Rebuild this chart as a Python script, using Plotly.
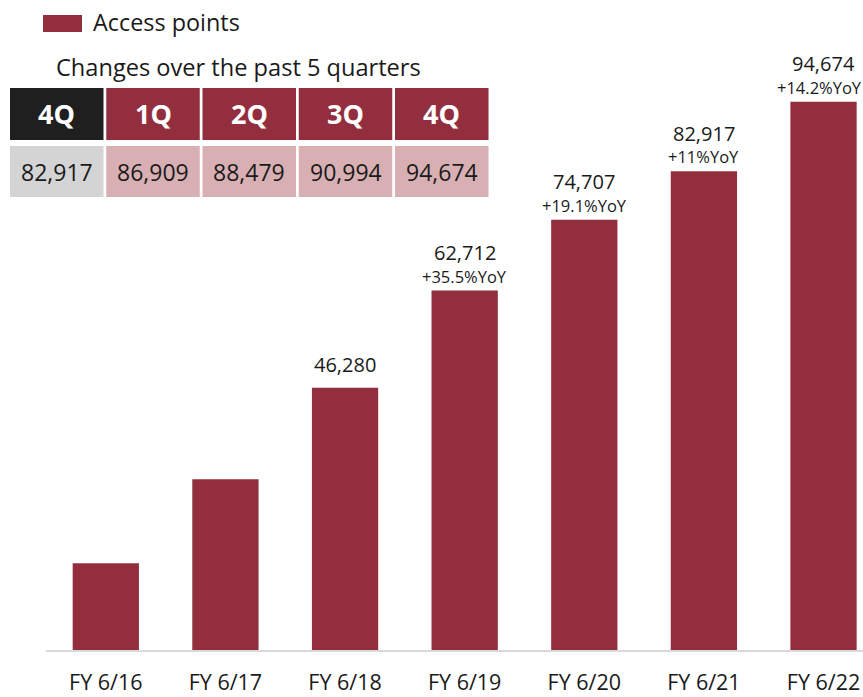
import plotly.graph_objects as go

# ---- data ----
categories = ["FY 6/16", "FY 6/17", "FY 6/18", "FY 6/19", "FY 6/20", "FY 6/21", "FY 6/22"]
access_points = [16570, 30780, 46280, 62712, 74707, 82917, 94674]
show_value = [False, False, True, True, True, True, True]
yoy_labels = [None, None, None, "+35.5%YoY", "+19.1%YoY", "+11%YoY", "+14.2%YoY"]

quarters = ["4Q", "1Q", "2Q", "3Q", "4Q"]
quarter_values = [82917, 86909, 88479, 90994, 94674]

series_name = "Access points"
table_title = "Changes over the past 5 quarters"

# ---- style ----
W, H = 863, 697
PLOT_BOTTOM = 650          # pixel row of the x-axis
FONT = "Open Sans"
BAR = "#922e3d"
DARK = "#1f1f1f"
PINK = "#d8b0b4"
GREY = "#d4d4d4"
TEXT = "#1a1a1a"


def px_x(px):
    return px / W


def px_y(py):
    return (PLOT_BOTTOM - py) / PLOT_BOTTOM


fig = go.Figure()
fig.add_trace(go.Bar(
    x=categories, y=access_points, name=series_name,
    marker=dict(color=BAR, line=dict(width=0)),
    showlegend=False, hoverinfo="skip",
))

annotations = []
shapes = []

# value and YoY labels above the bars
last = len(categories) - 1
for i, (cat, v, show, yoy) in enumerate(zip(categories, access_points, show_value, yoy_labels)):
    if not show:
        continue
    annotations.append(dict(
        x=cat, y=v, xref="x", yref="y", text=f"{v:,}", showarrow=False,
        yshift=38 if yoy else 23, yanchor="middle",
        font=dict(family=FONT, size=20, color=TEXT),
    ))
    if yoy:
        annotations.append(dict(
            x=cat, y=v, xref="x", yref="y", text=yoy, showarrow=False,
            yshift=14.5, yanchor="middle",
            xshift=-4 if i == last else 0,   # keep the rightmost label inside the page
            font=dict(family=FONT, size=16.5, color=TEXT),
        ))

# legend swatch + label
shapes.append(dict(type="rect", xref="paper", yref="paper",
                   x0=px_x(43), x1=px_x(82), y0=px_y(32), y1=px_y(15),
                   fillcolor=BAR, line=dict(width=0)))
annotations.append(dict(x=px_x(91), y=px_y(22), xref="paper", yref="paper",
                        text=series_name, showarrow=False, xanchor="left", yanchor="middle",
                        font=dict(family=FONT, size=23.4, color=TEXT)))

# quarter table title
annotations.append(dict(x=px_x(54), y=px_y(67), xref="paper", yref="paper",
                        text=table_title, showarrow=False, xanchor="left", yanchor="middle",
                        font=dict(family=FONT, size=23.6, color=TEXT)))

# quarter table: header row and value row
col_left, col_step, col_w = 10, 96.25, 93.5
head_top, head_bot = 88, 140
val_top, val_bot = 146, 197
for i, (q, qv) in enumerate(zip(quarters, quarter_values)):
    x0 = col_left + i * col_step
    x1 = x0 + col_w
    shapes.append(dict(type="rect", xref="paper", yref="paper",
                       x0=px_x(x0), x1=px_x(x1), y0=px_y(head_bot), y1=px_y(head_top),
                       fillcolor=DARK if i == 0 else BAR, line=dict(width=0)))
    shapes.append(dict(type="rect", xref="paper", yref="paper",
                       x0=px_x(x0), x1=px_x(x1), y0=px_y(val_bot), y1=px_y(val_top),
                       fillcolor=GREY if i == 0 else PINK, line=dict(width=0)))
    annotations.append(dict(x=px_x((x0 + x1) / 2), y=px_y((head_top + head_bot) / 2),
                            xref="paper", yref="paper", text=f"<b>{q}</b>", showarrow=False,
                            xanchor="center", yanchor="middle",
                            font=dict(family=FONT, size=27, color="white")))
    annotations.append(dict(x=px_x((x0 + x1) / 2), y=px_y((val_top + val_bot) / 2),
                            xref="paper", yref="paper", text=f"{qv:,}", showarrow=False,
                            xanchor="center", yanchor="middle",
                            font=dict(family=FONT, size=23, color=TEXT)))

fig.update_layout(
    width=W, height=H,
    margin=dict(l=0, r=0, t=0, b=H - PLOT_BOTTOM, pad=0),
    paper_bgcolor="white", plot_bgcolor="white",
    bargap=0.446,
    showlegend=False,
    xaxis=dict(
        type="category", domain=[46 / W, 1], range=[-0.5, 6.33],
        showline=True, linecolor="#d9d9d9", linewidth=2,
        showgrid=False, zeroline=False, ticks="",
        ticklabelstandoff=12, automargin=False,
        tickfont=dict(family=FONT, size=21.5, color=TEXT),
    ),
    yaxis=dict(visible=False, range=[1895, 111880], fixedrange=True),
    annotations=annotations,
    shapes=shapes,
    font=dict(family=FONT),
)

fig.write_html("out.html")
